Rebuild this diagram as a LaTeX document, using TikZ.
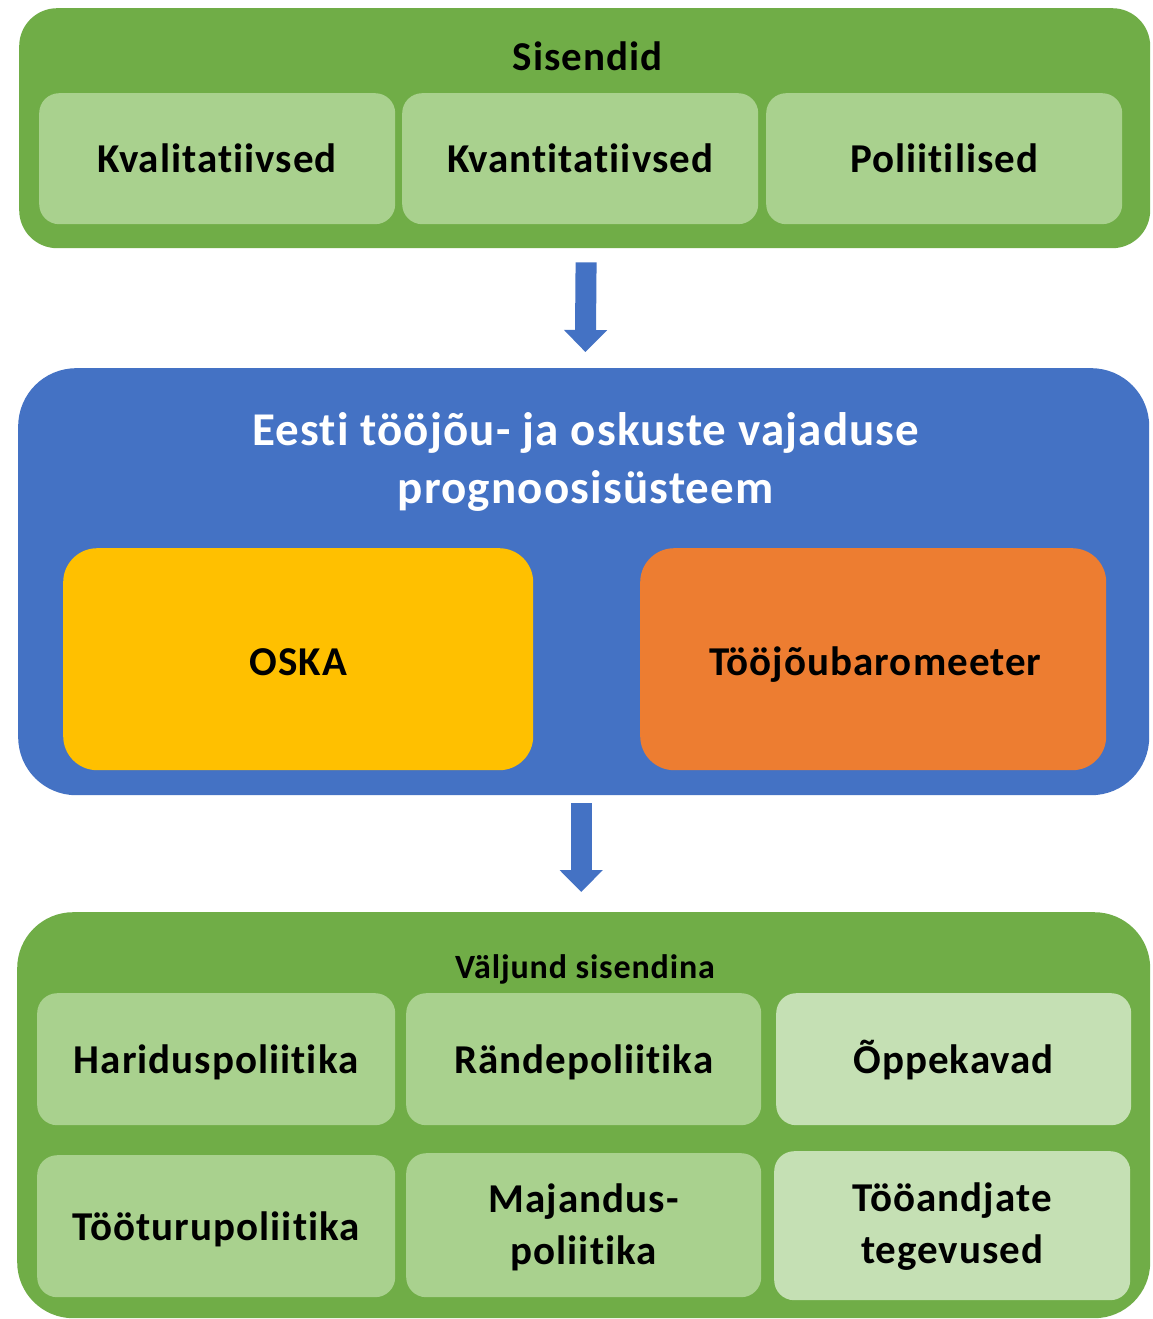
\documentclass[tikz,border=0pt]{standalone}
\usepackage{fontspec}
\setmainfont{Carlito}[LetterSpace=2.5, Ligatures={NoCommon}]
\usetikzlibrary{arrows.meta}
\definecolor{dgreen}{HTML}{70AD47}
\definecolor{lgreen}{HTML}{A9D18E}
\definecolor{llgreen}{HTML}{C5E0B4}
\definecolor{mblue}{HTML}{4472C4}
\definecolor{myellow}{HTML}{FFC000}
\definecolor{morange}{HTML}{ED7D31}
\tikzset{
  panel/.style={anchor=north west, inner sep=0pt, draw=none},
  outerbox/.style={panel, fill=dgreen, rounded corners=38pt},
  bluebox/.style={panel, fill=mblue, rounded corners=58pt},
  cell/.style={panel, fill=lgreen, rounded corners=20pt},
  palecell/.style={cell, fill=llgreen},
  bigcell/.style={panel, rounded corners=34pt},
  celltext/.style={anchor=base, inner sep=0pt, align=center, font=\fontsize{41}{52}\selectfont\bfseries},
  bigarrow/.style={draw=mblue, line width=21pt, -{Triangle[width=42pt,length=22pt]}},
}
\begin{document}
\begin{tikzpicture}[x=1pt,y=-1pt]
\useasboundingbox[fill=white] (0,0) rectangle (1152,1319);
% top panel
\node[outerbox, minimum width=1131pt, minimum height=240pt] (top) at (19,8) {};
\node[cell, minimum width=356pt, minimum height=131pt] (kval) at (39,93) {};
\node[cell, minimum width=356pt, minimum height=131pt] (kvan) at (402,93) {};
\node[cell, minimum width=356pt, minimum height=131pt] (pol) at (766,93) {};
\node[celltext] (sisendid) at ([xshift=3pt]top.center |- 0,71) {Sisendid};
\node[celltext] (kvalT) at (kval.center |- 0,172) {Kvalitatiivsed};
\node[celltext] (kvanT) at (kvan.center |- 0,172) {Kvantitatiivsed};
\node[celltext] (polT) at (pol.center |- 0,172) {Poliitilised};
% middle panel
\node[bluebox, minimum width=1131pt, minimum height=427pt] (mid) at (18,368) {};
\node[celltext, font=\fontsize{47}{58}\selectfont\bfseries, text=white] (title) at ([xshift=2pt]mid.center |- 0,503)
  {Eesti tööjõu- ja oskuste vajaduse\\prognoosisüsteem};
\node[bigcell, fill=myellow, minimum width=470pt, minimum height=222pt] (oska) at (63,548) {};
\node[bigcell, fill=morange, minimum width=466pt, minimum height=222pt] (baro) at (640,548) {};
\node[celltext] (oskaT) at (oska.center |- 0,675) {OSKA};
\node[celltext] (baroT) at ([xshift=2pt]baro.center |- 0,675) {Tööjõubaromeeter};
% bottom panel
\node[outerbox, rounded corners=56pt, minimum width=1133pt, minimum height=406pt] (bot) at (17,912) {};
\node[cell, minimum width=358pt, minimum height=132pt] (har) at (37,993) {};
\node[cell, minimum width=355pt, minimum height=132pt] (rande) at (406,993) {};
\node[palecell, minimum width=355pt, minimum height=132pt] (oppe) at (776,993) {};
\node[cell, minimum width=358pt, minimum height=142pt] (toot) at (37,1155) {};
\node[cell, minimum width=355pt, minimum height=144pt] (maj) at (406,1153) {};
\node[palecell, minimum width=356pt, minimum height=149pt] (tooa) at (774,1151) {};
\node[celltext, font=\fontsize{34}{40}\selectfont\bfseries] (valjund) at (585,978) {Väljund sisendina};
\node[celltext] (harT) at (har.center |- 0,1073) {Hariduspoliitika};
\node[celltext] (randeT) at (rande.center |- 0,1073) {Rändepoliitika};
\node[celltext] (oppeT) at (oppe.center |- 0,1073) {Õppekavad};
\node[celltext] (tootT) at (toot.center |- 0,1240) {Tööturupoliitika};
\node[celltext] (majT) at (maj.center |- 0,1264) {Majandus-\\poliitika};
\node[celltext] (tooaT) at (tooa.center |- 0,1263) {Tööandjate\\tegevused};
% arrows
\draw[bigarrow, shorten <=14pt, shorten >=16pt] ([xshift=1.5pt]top.south) -- ([xshift=1.5pt]mid.north);
\draw[bigarrow, shorten <=8pt, shorten >=20pt] ([xshift=-2.5pt]mid.south) -- ([xshift=-2.5pt]bot.north);
\end{tikzpicture}
\end{document}
